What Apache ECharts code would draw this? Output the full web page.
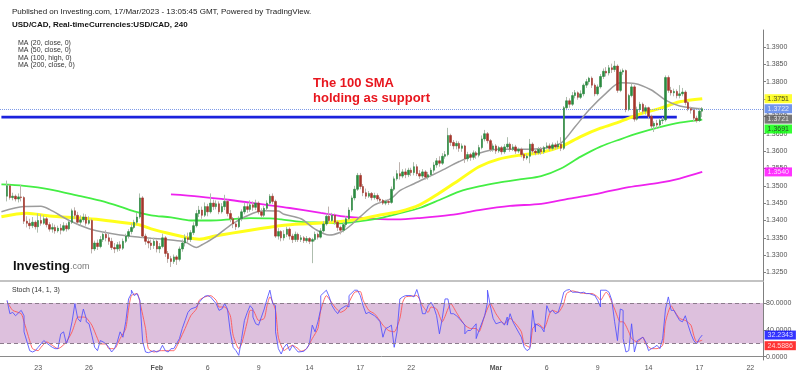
<!DOCTYPE html>
<html><head><meta charset="utf-8">
<script src="https://cdn.jsdelivr.net/npm/echarts@6/dist/echarts.min.js"></script>
<style>html,body{margin:0;padding:0;background:#fff}#c{width:800px;height:376px}</style>
</head><body><div id="c"></div>
<script>
// ---------- DATA (prices in 1/10000 units, i.e. 13722 = 1.3722) ----------
const tradingDays = ['Jan 18','Jan 19','Jan 20','Jan 23','Jan 24','Jan 25','Jan 26','Jan 27','Jan 30','Jan 31',
 'Feb 1','Feb 2','Feb 3','Feb 6','Feb 7','Feb 8','Feb 9','Feb 10','Feb 13','Feb 14','Feb 15','Feb 16','Feb 17',
 'Feb 20','Feb 21','Feb 22','Feb 23','Feb 24','Feb 27','Feb 28',
 'Mar 1','Mar 2','Mar 3','Mar 6','Mar 7','Mar 8','Mar 9','Mar 10','Mar 13','Mar 14','Mar 15','Mar 16','Mar 17',
 'Mar 20','Mar 21','Mar 22'];
const tickDays  = ['Jan 23','Jan 26','Feb 1','Feb 6','Feb 9','Feb 14','Feb 17','Feb 22','Mar 1','Mar 6','Mar 9','Mar 14','Mar 17','Mar 22'];
const tickTexts = ['23','26','Feb','6','9','14','17','22','Mar','6','9','14','17','22'];
const boldTicks = ['Feb','Mar'];

const candleStart = 2; // category index of the first candle
// [open, close, low, high]
const candles = [
[13470,13500,13455,13515],[13500,13466,13460,13503],[13466,13470,13458,13480],[13470,13462,13455,13475],
[13462,13468,13452,13478],[13468,13466,13455,13502],[13466,13398,13390,13470],[13398,13392,13380,13412],
[13392,13385,13375,13405],[13385,13395,13378,13410],[13395,13382,13374,13400],[13382,13400,13365,13420],
[13400,13392,13385,13418],[13392,13405,13388,13415],[13405,13388,13380,13410],[13388,13375,13368,13395],
[13375,13380,13365,13392],[13380,13370,13362,13388],[13370,13378,13365,13385],[13378,13372,13360,13390],
[13372,13385,13368,13395],[13385,13376,13368,13392],[13376,13395,13372,13400],[13395,13428,13390,13434],
[13428,13415,13405,13438],[13415,13395,13388,13425],[13395,13402,13385,13415],[13402,13410,13395,13420],
[13410,13392,13385,13418],[13392,13400,13388,13412],[13400,13318,13305,13405],[13318,13335,13312,13342],
[13335,13325,13315,13345],[13325,13345,13320,13355],[13345,13360,13338,13370],[13360,13350,13340,13372],
[13350,13340,13330,13362],[13340,13322,13315,13350],[13322,13318,13306,13335],[13318,13330,13310,13338],
[13330,13320,13312,13340],[13320,13340,13315,13348],[13340,13355,13335,13362],[13355,13368,13348,13375],
[13368,13380,13360,13392],[13380,13395,13375,13402],[13395,13410,13388,13422],[13410,13465,13405,13478],
[13465,13355,13350,13470],[13355,13340,13330,13362],[13340,13335,13320,13352],[13335,13328,13315,13345],
[13328,13340,13318,13350],[13340,13318,13308,13345],[13318,13325,13306,13335],[13325,13350,13320,13362],
[13350,13305,13295,13355],[13305,13290,13278,13312],[13290,13282,13266,13298],[13282,13295,13275,13302],
[13295,13288,13272,13300],[13288,13318,13282,13325],[13318,13335,13310,13345],[13335,13350,13325,13360],
[13350,13345,13335,13365],[13345,13365,13338,13372],[13365,13385,13358,13395],[13385,13420,13380,13430],
[13420,13430,13410,13442],[13430,13415,13405,13440],[13415,13440,13410,13452],[13440,13425,13412,13448],
[13425,13450,13420,13478],[13450,13440,13430,13460],[13440,13448,13432,13458],[13448,13425,13418,13455],
[13425,13440,13420,13450],[13440,13455,13430,13474],[13455,13420,13412,13460],[13420,13405,13395,13430],
[13405,13390,13378,13410],[13390,13382,13373,13398],[13382,13405,13378,13412],[13405,13425,13398,13432],
[13425,13440,13418,13452],[13440,13432,13422,13450],[13432,13445,13425,13458],[13445,13438,13428,13455],
[13438,13450,13430,13460],[13450,13425,13418,13455],[13425,13415,13408,13435],[13415,13435,13410,13442],
[13435,13450,13428,13458],[13450,13470,13445,13476],[13470,13455,13448,13478],[13455,13355,13350,13460],
[13355,13368,13345,13378],[13368,13350,13340,13372],[13350,13360,13342,13372],[13360,13375,13352,13382],
[13375,13355,13345,13380],[13355,13345,13335,13362],[13345,13360,13338,13368],[13360,13345,13338,13365],
[13345,13350,13338,13358],[13350,13342,13335,13355],[13342,13348,13336,13355],[13348,13340,13332,13352],
[13340,13345,13277,13350],[13345,13360,13340,13368],[13360,13352,13345,13365],[13352,13370,13348,13378],
[13370,13390,13365,13398],[13390,13412,13385,13420],[13412,13400,13392,13440],[13400,13415,13395,13422],
[13415,13395,13388,13420],[13395,13380,13370,13400],[13380,13372,13360,13385],[13372,13388,13366,13395],
[13388,13405,13380,13412],[13405,13430,13400,13438],[13430,13465,13425,13472],[13465,13490,13458,13500],
[13490,13530,13485,13537],[13530,13498,13490,13537],[13498,13480,13470,13505],[13480,13470,13462,13492],
[13470,13478,13465,13485],[13478,13466,13458,13482],[13466,13472,13460,13480],[13472,13462,13455,13478],
[13462,13458,13450,13468],[13458,13450,13445,13462],[13450,13455,13444,13460],[13455,13452,13445,13462],
[13452,13490,13448,13498],[13490,13520,13485,13527],[13520,13535,13515,13545],[13535,13528,13518,13568],
[13528,13540,13522,13548],[13540,13532,13522,13550],[13532,13545,13525,13552],[13545,13538,13528,13552],
[13538,13555,13530,13568],[13555,13535,13528,13562],[13535,13528,13520,13545],[13528,13540,13522,13548],
[13540,13525,13518,13545],[13525,13532,13518,13540],[13532,13545,13525,13552],[13545,13560,13538,13568],
[13560,13572,13552,13580],[13572,13565,13555,13585],[13565,13585,13560,13594],[13585,13590,13578,13600],
[13590,13645,13585,13667],[13645,13625,13615,13650],[13625,13615,13605,13632],[13615,13622,13605,13630],
[13622,13608,13598,13628],[13608,13615,13598,13622],[13615,13578,13566,13618],[13578,13590,13570,13598],
[13590,13582,13572,13595],[13582,13595,13575,13602],[13595,13588,13578,13600],[13588,13610,13582,13618],
[13610,13635,13605,13645],[13635,13650,13628,13661],[13650,13630,13622,13655],[13630,13605,13598,13635],
[13605,13615,13598,13622],[13615,13600,13592,13620],[13600,13610,13595,13615],[13610,13598,13590,13615],
[13598,13612,13592,13620],[13612,13620,13605,13640],[13620,13605,13598,13625],[13605,13612,13600,13620],
[13612,13600,13592,13618],[13600,13605,13594,13610],[13605,13590,13582,13610],[13590,13580,13572,13595],
[13580,13585,13575,13592],[13585,13620,13565,13635],[13620,13600,13592,13625],[13600,13595,13588,13605],
[13595,13605,13590,13612],[13605,13598,13590,13612],[13598,13610,13592,13615],[13610,13615,13605,13625],
[13615,13608,13600,13622],[13608,13618,13602,13625],[13618,13612,13605,13624],[13612,13620,13606,13630],
[13620,13608,13600,13640],[13608,13725,13603,13730],[13725,13745,13718,13756],[13745,13735,13725,13752],
[13735,13760,13730,13770],[13760,13768,13752,13776],[13768,13755,13748,13772],[13755,13765,13750,13775],
[13765,13790,13758,13795],[13790,13800,13782,13808],[13800,13810,13792,13814],[13810,13790,13782,13815],
[13790,13765,13758,13795],[13765,13785,13760,13792],[13785,13815,13780,13822],[13815,13830,13808,13838],
[13830,13825,13815,13842],[13825,13840,13818,13848],[13840,13835,13825,13852],[13835,13845,13828,13860],
[13845,13775,13768,13850],[13775,13828,13770,13835],[13828,13832,13820,13838],[13832,13720,13712,13835],
[13720,13760,13715,13765],[13760,13785,13755,13795],[13785,13692,13685,13790],[13692,13720,13688,13728],
[13720,13735,13712,13742],[13735,13715,13708,13740],[13715,13725,13705,13732],[13725,13700,13692,13728],
[13700,13672,13665,13705],[13672,13680,13655,13686],[13680,13675,13665,13690],[13675,13688,13668,13695],
[13688,13690,13678,13698],[13690,13812,13685,13818],[13812,13775,13768,13818],[13775,13768,13760,13785],
[13768,13772,13758,13780],[13772,13760,13752,13778],[13760,13765,13752,13790],[13765,13770,13758,13782],
[13770,13740,13732,13775],[13740,13722,13715,13745],[13722,13718,13708,13728],[13718,13695,13685,13722],
[13695,13688,13682,13702],[13688,13715,13684,13725],[13715,13722,13698,13727]
];

// moving averages: [category index, value]
const ma20 = [[0,13425],[8.3,13440],[13.7,13441],[17.2,13432],[24.3,13400],[31.3,13376],[34.9,13368],[42,13358],[49,13352],[52.6,13349],[59.7,13344],[65,13338],[68.5,13322],[71,13330],[74.9,13349],[81.9,13392],[89,13421],[93.3,13428],[97.5,13427],[100.3,13418],[105.7,13405],[111,13375],[116.3,13358],[119.8,13366],[123.3,13382],[126.9,13411],[132.2,13445],[137.5,13464],[141,13486],[145.6,13506],[155.2,13541],[162.3,13570],[169.4,13594],[176.4,13605],[183.5,13605],[192.4,13608],[197.7,13623],[203,13670],[208.3,13719],[213.6,13767],[218.9,13797],[224.2,13795],[229.5,13776],[234.8,13747],[240.1,13730],[248,13721]];
const ma50 = [[0,13411],[9,13421],[17,13413],[27.8,13407],[35,13402],[45,13392],[49,13387],[52.6,13376],[58.5,13363],[65.5,13350],[70.3,13346],[76,13356],[88,13372],[100,13386],[106,13390],[112.7,13393],[119.8,13397],[126.9,13404],[134,13416],[141,13426],[148.1,13445],[155.2,13479],[162.3,13517],[169.4,13555],[176.4,13577],[183.5,13589],[190.6,13596],[197.7,13613],[204.7,13642],[211.8,13666],[218.9,13685],[226,13707],[233,13723],[240.1,13742],[248,13751]];
const ma100 = [[0,13504],[8.3,13500],[17.2,13490],[27.8,13470],[35,13457],[42,13440],[47,13426],[52.6,13415],[59.7,13409],[66.7,13400],[73.8,13400],[82,13404],[88,13407],[95,13406],[98.6,13403],[105.7,13396],[112.7,13394],[119.8,13392],[126.9,13398],[134,13407],[141,13421],[148.1,13436],[155.2,13459],[162.3,13483],[169.4,13498],[176.4,13509],[183.5,13519],[190.6,13528],[197.7,13550],[204.7,13584],[211.8,13613],[218.9,13634],[226,13653],[233,13669],[240.1,13682],[248,13691]];
const ma200 = [[59.7,13475],[70.3,13469],[80.9,13459],[91.5,13447],[102.1,13436],[112.7,13422],[123.3,13410],[134,13404],[140,13403],[148.1,13407],[158.7,13416],[169.4,13430],[180,13442],[190.6,13448],[201.2,13463],[211.8,13479],[222.4,13496],[233,13509],[240.1,13521],[248,13540]];
const supportLine = [[0,13698],[239,13698]];

// stochastic (14,1,3)
const stochK = [[1.9,84],[3,64],[4.2,66],[5.4,61],[6.6,69],[7.5,61],[8.4,37],[9.5,9],[10.7,7],[11.9,9],[13.1,14],[14.2,19],[15.4,24],[16.6,17],[17.8,14],[19,12],[20.1,12],[21.3,34],[22.1,37],[23.1,19],[24.3,32],[25.2,52],[26,79],[26.9,57],[27.8,52],[28.8,71],[29.6,57],[30.4,52],[31.4,49],[32.3,32],[33.1,14],[33.9,9],[34.9,24],[36.1,22],[37,19],[37.8,14],[38.7,7],[39.6,12],[40.8,22],[41.7,37],[42.6,29],[43.7,52],[44.6,86],[45.5,94],[46.4,99],[47.3,91],[48.1,94],[49,84],[50,22],[51.2,7],[52.3,6],[53.8,9],[54.9,7],[56.1,9],[57.1,17],[57.9,9],[59.1,7],[60.3,12],[61.4,12],[62.6,27],[63.8,42],[65,54],[66.1,66],[67.3,71],[68.5,74],[69.7,81],[70.9,86],[72,90],[73.2,91],[74.4,89],[75.6,79],[76.8,69],[77.9,71],[79.1,79],[79.9,71],[80.9,37],[82.1,14],[83.2,9],[84.1,2],[85,27],[85.8,54],[86.8,66],[87.7,76],[88.6,71],[89.4,59],[90.3,49],[91.3,47],[92.1,59],[93.3,71],[94.1,86],[94.8,99],[95.6,79],[96.5,76],[97.4,37],[98.3,12],[99.2,4],[100.3,14],[101.2,19],[102.1,9],[103.1,17],[104.2,12],[105.4,7],[106.6,8],[107.8,12],[109,19],[109.8,47],[110.6,37],[111.6,52],[112.5,71],[113.3,91],[114.5,99],[115.7,89],[116.9,76],[118,69],[119.2,64],[120.4,71],[121.6,76],[122.5,74],[123.3,91],[124.5,99],[125.7,99],[126.9,91],[128.1,76],[129.2,64],[130.4,66],[131.6,61],[132.8,57],[134,52],[135.1,29],[136.3,42],[136.9,44],[138.1,47],[138.7,14],[139.9,37],[141.1,86],[142.3,89],[143.4,91],[144.6,91],[145.8,89],[147,100],[147.9,86],[148.7,64],[149.9,64],[151.1,76],[152.3,81],[153.1,74],[154.1,61],[155,34],[155.8,57],[157,86],[158.2,86],[159,64],[160,64],[161.1,61],[162.3,57],[163.5,47],[164.4,34],[165.3,39],[166.4,39],[167.6,49],[168.4,27],[169.4,39],[170.6,61],[171.5,81],[172.3,99],[173.2,76],[174.1,57],[175.3,49],[176.5,52],[177.6,47],[178.6,59],[179.4,47],[180.2,64],[181.2,52],[182.4,44],[183.5,29],[184.5,14],[185.7,9],[186.8,12],[187.8,69],[188.5,37],[189.4,49],[190.6,44],[191.8,37],[192.7,76],[193.6,66],[194.7,69],[195.9,64],[197.1,66],[198.3,79],[199.1,96],[200.1,99],[201.2,100],[202.4,96],[203.6,96],[204.8,95],[206,96],[207.1,94],[208.3,94],[209.5,91],[210.7,84],[211.6,74],[212.4,99],[213.6,99],[214.8,96],[216,84],[217.2,52],[218,24],[218.7,71],[219.5,69],[220.3,27],[221,7],[221.9,9],[222.7,49],[223.6,7],[224.6,24],[225.4,24],[226.6,29],[227.8,22],[229,9],[230.1,12],[231.3,14],[232.1,17],[233.1,12],[234,27],[234.8,71],[235.7,89],[236.6,69],[237.6,69],[238.7,61],[239.9,54],[240.7,52],[241.6,61],[242.5,47],[243.7,34],[244.9,24],[246,19],[247,27],[247.8,32.2343]];
const stochD = [[1.9,82],[4.2,69],[6.6,64],[8.4,52],[9.5,24],[10.7,12],[12.5,9],[14.2,14],[16,22],[17.8,17],[19.6,12],[21.3,14],[23.1,22],[24.5,37],[26,49],[27.2,59],[29,59],[30.4,58],[31.9,47],[33.5,27],[34.9,19],[36.7,19],[38.4,12],[40.2,12],[42,27],[43.7,42],[44.9,71],[46.4,91],[48.1,94],[49.3,81],[50.5,42],[51.6,12],[53.8,7],[56.1,9],[58.5,9],[60.8,9],[63.2,24],[65,42],[66.7,61],[68.5,71],[70.3,84],[72,89],[73.8,91],[75.6,84],[77.4,74],[79.1,74],[80.7,61],[82.1,32],[83.5,12],[85,19],[86.5,52],[88,69],[89.4,69],[90.9,54],[92.7,57],[93.9,76],[95.3,89],[96.8,69],[98.3,29],[99.8,9],[101.2,12],[102.7,17],[104.5,12],[106.2,8],[108,12],[109.8,27],[111.6,42],[113,69],[114.5,91],[116.3,86],[118,74],[119.8,66],[121.6,71],[123.3,81],[125.1,96],[126.7,97],[128.1,84],[129.8,69],[131.6,64],[133.4,59],[135.1,47],[136.9,39],[139.3,37],[140.5,57],[141.7,81],[143.4,89],[145.2,90],[147,91],[148.7,76],[150.5,66],[152.3,74],[154.1,71],[155.8,52],[157.6,71],[159,79],[160.5,66],[162.3,59],[164.1,47],[165.8,42],[167.6,42],[169.4,37],[171.2,61],[172.9,79],[174.7,64],[176.5,52],[178.2,49],[180,57],[181.8,49],[183.5,37],[185.3,19],[186.8,14],[188.3,42],[190,49],[191.8,42],[193.6,64],[195.3,69],[197.1,66],[198.6,79],[200.1,94],[201.8,98],[203.6,96],[205.4,95],[207.1,94],[208.9,94],[210.7,89],[212.1,84],[213.6,96],[215.4,91],[217.2,71],[218.7,52],[220.1,52],[221.5,37],[223.1,27],[224.8,22],[226.6,29],[228.4,19],[230.1,12],[231.9,12],[233.7,17],[235.2,52],[236.6,76],[238.4,69],[240.2,57],[241.9,54],[243.5,47],[244.9,32],[246.3,22],[247.8,24.5886]];
const stochLevels = [20, 80];

// ---------- BUILD ----------
const FONT = '"Liberation Sans", Arial, sans-serif';
const allSlots = [];
tradingDays.forEach(d => { for (let s = 0; s < 6; s++) allSlots.push(d + ' ' + (s * 4) + 'h'); });
const cats = allSlots.slice(5, 5 + 270);
const lastCat = cats.length - 1;
const tickMap = {};
tickDays.forEach((d, k) => { tickMap[d + ' 0h'] = tickTexts[k]; });

const wickData = candles.map((c, k) => [candleStart + k, c[0], c[1], c[2], c[3]]);
const bodyData = candles.map((c, k) => [candleStart + k, c[0], c[1], Math.min(c[0], c[1]), Math.max(c[0], c[1])]);
const lastClose = candles[candles.length - 1][1];
const last = a => a[a.length - 1][1];
const px = v => (v / 10000).toFixed(4);

function tag(grid, value, text, bg, fg, dy) {
  return { type: 'scatter', xAxisIndex: grid, yAxisIndex: grid, data: [[lastCat, value]],
    symbolSize: 0, silent: true, clip: false, z: 20, animation: false,
    label: { show: true, position: 'right', distance: 3, offset: [0, dy], formatter: () => text,
      backgroundColor: bg, color: fg, fontSize: 7, fontFamily: FONT, lineHeight: 7, padding: [1, 3, 1, 3] } };
}
function maLine(data, color, width, smooth) {
  return { type: 'line', xAxisIndex: 0, yAxisIndex: 0, data: data, showSymbol: false, symbol: 'none',
    smooth: smooth, silent: true, z: 3, lineStyle: { color: color, width: width } };
}

const labelInterval = (idx, val) => tickMap[val] !== undefined;

const chart = echarts.init(document.getElementById('c'), null, { renderer: 'canvas' });
chart.setOption({
  animation: false,
  backgroundColor: '#ffffff',
  grid: [
    { left: 0, right: 37, top: 30, height: 251, outerBoundsMode: 'none', containLabel: false },
    { left: 0, right: 37, top: 282, height: 78, outerBoundsMode: 'none', containLabel: false }
  ],
  xAxis: [
    { type: 'category', gridIndex: 0, data: cats, boundaryGap: true,
      axisLine: { show: true, lineStyle: { color: '#b0b0b0', width: 1.5 } },
      axisTick: { show: false }, axisLabel: { show: false }, splitLine: { show: false } },
    { type: 'category', gridIndex: 1, data: cats, boundaryGap: true,
      axisLine: { show: true, lineStyle: { color: '#8a8a8a', width: 1 } },
      axisTick: { show: false },
      axisLabel: { show: true, interval: labelInterval, fontSize: 7, fontFamily: FONT, color: '#555', margin: 5,
        formatter: v => { const t = tickMap[v]; if (t === undefined) return ''; return boldTicks.indexOf(t) >= 0 ? '{b|' + t + '}' : t; },
        rich: { b: { fontWeight: 'bold', fontSize: 7, fontFamily: FONT, color: '#555' } } },
      splitLine: { show: false } }
  ],
  yAxis: [
    { type: 'value', gridIndex: 0, position: 'right', min: 13225.6, max: 13949, splitNumber: 14,
      minInterval: 50, maxInterval: 50,
      axisLine: { show: true, lineStyle: { color: '#7f7f7f' } },
      axisTick: { show: true, length: 3, lineStyle: { color: '#7f7f7f' } },
      splitLine: { show: false },
      axisLabel: { fontSize: 7, fontFamily: FONT, color: '#555', margin: 3, showMinLabel: false, showMaxLabel: false,
        formatter: v => px(v) } },
    { type: 'value', gridIndex: 1, position: 'right', min: -4.9, max: 111.2, splitNumber: 3,
      minInterval: 40, maxInterval: 40,
      axisLine: { show: true, lineStyle: { color: '#7f7f7f' } },
      axisTick: { show: true, length: 3, lineStyle: { color: '#7f7f7f' } },
      splitLine: { show: false },
      axisLabel: { fontSize: 7, fontFamily: FONT, color: '#555', margin: 3, showMinLabel: false, showMaxLabel: false,
        formatter: v => v.toFixed(4) } }
  ],
  series: [
    maLine(ma200, '#ee22ee', 1.8, 0.3),
    maLine(ma100, '#44ee44', 1.8, 0.3),
    { type: 'line', xAxisIndex: 0, yAxisIndex: 0, data: supportLine, showSymbol: false, symbol: 'none', silent: true, z: 3,
      lineStyle: { color: '#1b22dd', width: 2.6 } },
    maLine(ma50, '#ffff1a', 3, 0.3),
    maLine(ma20, '#9c9c9c', 1.5, 0.3),
    { type: 'candlestick', xAxisIndex: 0, yAxisIndex: 0, data: wickData, encode: { x: 0, y: [1, 2, 3, 4] },
      barWidth: 1, silent: true, z: 4,
      itemStyle: { color: '#aebdae', color0: '#bdb2ae', borderColor: '#aebdae', borderColor0: '#bdb2ae', borderWidth: 1 } },
    { type: 'candlestick', xAxisIndex: 0, yAxisIndex: 0, data: bodyData, encode: { x: 0, y: [1, 2, 3, 4] },
      barWidth: 2, silent: true, z: 5,
      itemStyle: { color: '#2b8a40', color0: '#a5352c', borderColor: '#2b8a40', borderColor0: '#a5352c', borderWidth: 0.6 },
      markLine: { silent: true, symbol: ['none', 'none'], label: { show: false },
        lineStyle: { type: 'dotted', color: '#7f9be8', width: 1 }, data: [{ yAxis: lastClose }] } },
    // stochastic band
    { type: 'line', xAxisIndex: 1, yAxisIndex: 1, data: [], silent: true, z: 1,
      markArea: { silent: true, itemStyle: { color: '#ddc0dd' }, data: [[{ yAxis: stochLevels[0] }, { yAxis: stochLevels[1] }]] },
      markLine: { silent: true, symbol: ['none', 'none'], label: { show: false },
        lineStyle: { type: [4, 3], color: '#8c7b8c', width: 1 }, data: stochLevels.map(v => ({ yAxis: v })) } },
    { type: 'line', xAxisIndex: 1, yAxisIndex: 1, data: stochK, showSymbol: false, symbol: 'none', silent: true, z: 4,
      lineStyle: { color: 'rgba(80,80,255,0.85)', width: 1 } },
    { type: 'line', xAxisIndex: 1, yAxisIndex: 1, data: stochD, showSymbol: false, symbol: 'none', silent: true, z: 3,
      smooth: 0.2, lineStyle: { color: 'rgba(255,80,80,0.85)', width: 1 } },
    // right-axis value tags
    tag(0, last(ma50), px(last(ma50)), '#ffff00', '#222', 0),
    tag(0, lastClose, px(lastClose), '#4d7be8', '#fff', 0),
    tag(0, last(ma20), px(last(ma20)), '#555555', '#fff', 10),
    tag(0, last(ma100), px(last(ma100)), '#00ff00', '#222', 9.5),
    tag(0, last(ma200), px(last(ma200)), '#ff00ff', '#fff', 0),
    tag(1, last(stochK), last(stochK).toFixed(4), '#0000ff', '#fff', 0),
    tag(1, last(stochD), last(stochD).toFixed(4), '#ff0000', '#fff', 5.5)
  ],
  graphic: [
    { type: 'text', left: 12, top: 8, silent: true, style: { text: 'Published on Investing.com, 17/Mar/2023 - 13:05:45 GMT, Powered by TradingView.', fontSize: 8, fontFamily: FONT, fill: '#222' } },
    { type: 'text', left: 12, top: 21, silent: true, style: { text: 'USD/CAD, Real-timeCurrencies:USD/CAD, 240', fontSize: 8, fontWeight: 'bold', fontFamily: FONT, fill: '#111' } },
    { type: 'text', left: 18, top: 39.5, silent: true, style: { text: 'MA (20, close, 0)', fontSize: 7, fontFamily: FONT, fill: '#333' } },
    { type: 'text', left: 18, top: 46.8, silent: true, style: { text: 'MA (50, close, 0)', fontSize: 7, fontFamily: FONT, fill: '#333' } },
    { type: 'text', left: 18, top: 54.1, silent: true, style: { text: 'MA (100, high, 0)', fontSize: 7, fontFamily: FONT, fill: '#333' } },
    { type: 'text', left: 18, top: 61.4, silent: true, style: { text: 'MA (200, close, 0)', fontSize: 7, fontFamily: FONT, fill: '#333' } },
    { type: 'text', left: 313, top: 77, silent: true, style: { text: 'The 100 SMA', fontSize: 13, fontWeight: 'bold', fontFamily: FONT, fill: '#e8161e' } },
    { type: 'text', left: 313, top: 92, silent: true, style: { text: 'holding as support', fontSize: 13, fontWeight: 'bold', fontFamily: FONT, fill: '#e8161e' } },
    { type: 'text', left: 13, top: 260, silent: true, style: { text: '{a|Investing}{b|.com}',
        rich: { a: { fontSize: 13, fontWeight: 'bold', fontFamily: FONT, fill: '#111', color: '#111' },
                b: { fontSize: 9, fontFamily: FONT, fill: '#777', color: '#777' } } } },
    { type: 'text', left: 12, top: 287, silent: true, style: { text: 'Stoch (14, 1, 3)', fontSize: 7, fontFamily: FONT, fill: '#333' } }
  ]
});
</script></body></html>
